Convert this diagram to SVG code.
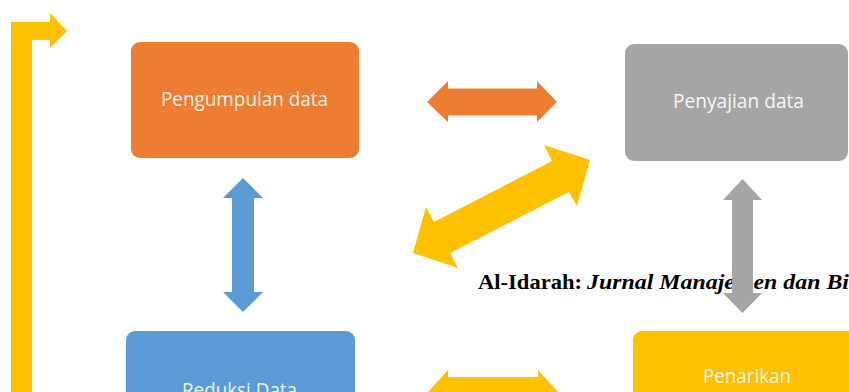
<svg xmlns="http://www.w3.org/2000/svg" width="849" height="392" viewBox="0 0 849 392">
<style>
.lbl{font-family:"Open Sans","Noto Sans",sans-serif;font-size:19.5px;fill:#FFFFFF;fill-opacity:0.93;text-anchor:start}
.jr{font-family:"Liberation Serif","Times New Roman",serif;font-size:22px;font-weight:bold;fill:#000000}
</style>
<rect width="849" height="392" fill="#FFFFFF"/>
<g id="node-pengumpulan">
<rect x="131" y="42" width="228" height="116" rx="9" fill="#ED7D31"/>
<text class="lbl" x="161" y="106" textLength="167" lengthAdjust="spacingAndGlyphs">Pengumpulan data</text>
</g>
<g id="node-penyajian">
<rect x="625" y="44" width="223" height="117" rx="9" fill="#A5A5A5"/>
<text class="lbl" x="673" y="108" textLength="131" lengthAdjust="spacingAndGlyphs">Penyajian data</text>
</g>
<g id="node-reduksi">
<rect x="126" y="331" width="229" height="120" rx="9" fill="#5B9BD5"/>
<text class="lbl" x="182" y="397" textLength="115" lengthAdjust="spacingAndGlyphs">Reduksi Data</text>
</g>
<g id="node-penarikan">
<rect x="633" y="331" width="230" height="120" rx="9" fill="#FFC000"/>
<text class="lbl" x="703" y="383" textLength="88" lengthAdjust="spacingAndGlyphs">Penarikan</text>
</g>
<g id="journal-text">
<text class="jr" x="478" y="289" textLength="104" lengthAdjust="spacingAndGlyphs">Al-Idarah:</text>
<text class="jr" x="587" y="289" font-style="italic" textLength="262" lengthAdjust="spacingAndGlyphs">Jurnal Manajemen dan Bi</text>
</g>
<g id="connectors">
<polygon id="loop-arrow" fill="#FFC000" points="11,392 11,22 50,22 50,13 67,31 50,48 50,40 32,40 32,392"/>
<polygon id="arrow-pengumpulan-penyajian" fill="#ED7D31" points="427,102 448,81 448,88.5 537,88.5 537,81 557,102 537,122 537,115.5 448,115.5 448,122"/>
<polygon id="arrow-pengumpulan-reduksi" fill="#5B9BD5" points="243,178 263,198 254,198 254,292 263,292 243,312 223,292 232,292 232,198 223,198"/>
<polygon id="arrow-penyajian-penarikan" fill="#A5A5A5" points="742.5,179 762,200 753,200 753,293 762,293 742.5,313 723,293 732,293 732,200 723,200"/>
<polygon id="arrow-penyajian-reduksi" fill="#FFC000" points="590,160 577,206 569,192 450,253 458,268 413,253 426,207 434,222 552,161 544,145"/>
<polygon id="arrow-reduksi-penarikan" fill="#FFC000" points="428,392 448,370 448,377 538,377 538,370 558,392 538,414 538,407 448,407 448,414"/>
</g>
</svg>
